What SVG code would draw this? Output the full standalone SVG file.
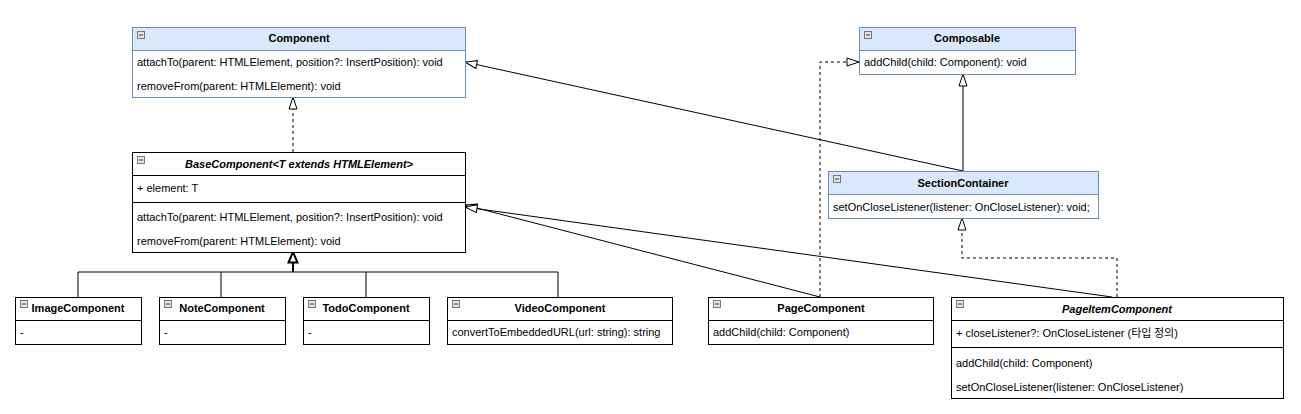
<svg xmlns="http://www.w3.org/2000/svg" width="1301" height="414" viewBox="0 0 1301 414">
<style>
text{font-family:"Liberation Sans",Arial,sans-serif;font-size:11px;fill:#000}
.t{font-weight:bold;text-anchor:middle}
.ti{font-weight:bold;font-style:italic;text-anchor:middle}
.hb{fill:#dae8fc;stroke:#6c8ebf}
.bb{fill:#fff;stroke:#6c8ebf}
.bx{fill:#fff;stroke:#000}
.sepb{stroke:#6c8ebf}
.sep{stroke:#000}
.ic{fill:#e6e6e6;stroke:#777;stroke-width:1}
.icl{stroke:#333;stroke-width:1}
.c{fill:none;stroke:#000;stroke-width:1}
.d{stroke-dasharray:3 3}
</style>
<defs>
<marker id="tri" viewBox="0 0 14 10" refX="13" refY="5" markerWidth="14" markerHeight="10" orient="auto" markerUnits="userSpaceOnUse">
<path d="M1,1 L13,5 L1,9 Z" fill="#fff" stroke="#000" stroke-width="1" stroke-dasharray="none"/>
</marker>
<marker id="triB" viewBox="0 0 14 12" refX="12" refY="6" markerWidth="14" markerHeight="12" orient="auto" markerUnits="userSpaceOnUse">
<path d="M1.5,1.5 L12,6 L1.5,10.5 Z" fill="#fff" stroke="#000" stroke-width="2"/>
</marker>
<g id="icon"><rect class="ic" x="0.5" y="0.5" width="7" height="7"/><line class="icl" x1="2" y1="4" x2="6" y2="4"/></g>
</defs>

<g id="connectors">
<path class="c d" d="M293,152 L293,97" marker-end="url(#tri)"/>
<path class="c" d="M78,297 L78,272 L558,272 L558,297 M221,272 L221,297 M366,272 L366,297"/>
<path class="c" stroke-width="2" d="M293,272 L293,252" style="stroke-width:2" marker-end="url(#triB)"/>
<path class="c" d="M963,171 L465,62" marker-end="url(#tri)"/>
<path class="c" d="M963,171 L963,74" marker-end="url(#tri)"/>
<path class="c d" d="M820,297 L820,62 L859,62" marker-end="url(#tri)"/>
<path class="c" d="M820,297 L465,205" marker-end="url(#tri)"/>
<path class="c" d="M1112,297 L465,207" marker-end="url(#tri)"/>
<path class="c d" d="M1117,297 L1117,258 L962,258 L962,218" marker-end="url(#tri)"/>
</g>

<g id="Component">
<rect class="bb" x="132.5" y="27.5" width="333" height="70"/>
<rect class="hb" x="132.5" y="27.5" width="333" height="23"/>
<use href="#icon" x="137" y="31"/>
<text class="t" x="299" y="42">Component</text>
<text x="137" y="66">attachTo(parent: HTMLElement, position?: InsertPosition): void</text>
<text x="137" y="90">removeFrom(parent: HTMLElement): void</text>
</g>

<g id="BaseComponent">
<rect class="bx" x="132.5" y="152.5" width="333" height="100"/>
<line class="sep" x1="132.5" y1="175.5" x2="465.5" y2="175.5"/>
<line class="sep" x1="132.5" y1="202.5" x2="465.5" y2="202.5"/>
<use href="#icon" x="137" y="156"/>
<text class="ti" x="299" y="168">BaseComponent&lt;T extends HTMLElement&gt;</text>
<text x="137" y="192">+ element: T</text>
<text x="137" y="221">attachTo(parent: HTMLElement, position?: InsertPosition): void</text>
<text x="137" y="245">removeFrom(parent: HTMLElement): void</text>
</g>

<g id="Composable">
<rect class="bb" x="859.5" y="27.5" width="216" height="47"/>
<rect class="hb" x="859.5" y="27.5" width="216" height="23"/>
<use href="#icon" x="864" y="31"/>
<text class="t" x="967" y="42">Composable</text>
<text x="864" y="66">addChild(child: Component): void</text>
</g>

<g id="SectionContainer">
<rect class="bb" x="828.5" y="171.5" width="270" height="47"/>
<rect class="hb" x="828.5" y="171.5" width="270" height="23"/>
<use href="#icon" x="833" y="175"/>
<text class="t" x="963" y="187">SectionContainer</text>
<text x="833" y="211">setOnCloseListener(listener: OnCloseListener): void;</text>
</g>

<g id="ImageComponent">
<rect class="bx" x="15.5" y="297.5" width="126" height="47"/>
<line class="sep" x1="15.5" y1="320.5" x2="141.5" y2="320.5"/>
<use href="#icon" x="20" y="300"/>
<text class="t" x="78" y="312">ImageComponent</text>
<text x="20" y="336">-</text>
</g>

<g id="NoteComponent">
<rect class="bx" x="159.5" y="297.5" width="126" height="47"/>
<line class="sep" x1="159.5" y1="320.5" x2="285.5" y2="320.5"/>
<use href="#icon" x="164" y="300"/>
<text class="t" x="222" y="312">NoteComponent</text>
<text x="164" y="336">-</text>
</g>

<g id="TodoComponent">
<rect class="bx" x="303.5" y="297.5" width="126" height="47"/>
<line class="sep" x1="303.5" y1="320.5" x2="429.5" y2="320.5"/>
<use href="#icon" x="308" y="300"/>
<text class="t" x="366" y="312">TodoComponent</text>
<text x="308" y="336">-</text>
</g>

<g id="VideoComponent">
<rect class="bx" x="447.5" y="297.5" width="225" height="47"/>
<line class="sep" x1="447.5" y1="320.5" x2="672.5" y2="320.5"/>
<use href="#icon" x="452" y="300"/>
<text class="t" x="560" y="312">VideoComponent</text>
<text x="452" y="336">convertToEmbeddedURL(url: string): string</text>
</g>

<g id="PageComponent">
<rect class="bx" x="708.5" y="297.5" width="225" height="47"/>
<line class="sep" x1="708.5" y1="320.5" x2="933.5" y2="320.5"/>
<use href="#icon" x="713" y="300"/>
<text class="t" x="821" y="312">PageComponent</text>
<text x="713" y="336">addChild(child: Component)</text>
</g>

<g id="PageItemComponent">
<rect class="bx" x="951.5" y="297.5" width="332" height="101"/>
<line class="sep" x1="951.5" y1="320.5" x2="1283.5" y2="320.5"/>
<line class="sep" x1="951.5" y1="347.5" x2="1283.5" y2="347.5"/>
<use href="#icon" x="956" y="300"/>
<text class="ti" x="1117" y="313">PageItemComponent</text>
<text x="956" y="337">+ closeListener?: OnCloseListener (<tspan style="font-family:'Noto Sans CJK KR',sans-serif">타입 정의</tspan>)</text>
<text x="956" y="367">addChild(child: Component)</text>
<text x="956" y="391">setOnCloseListener(listener: OnCloseListener)</text>
</g>
</svg>
